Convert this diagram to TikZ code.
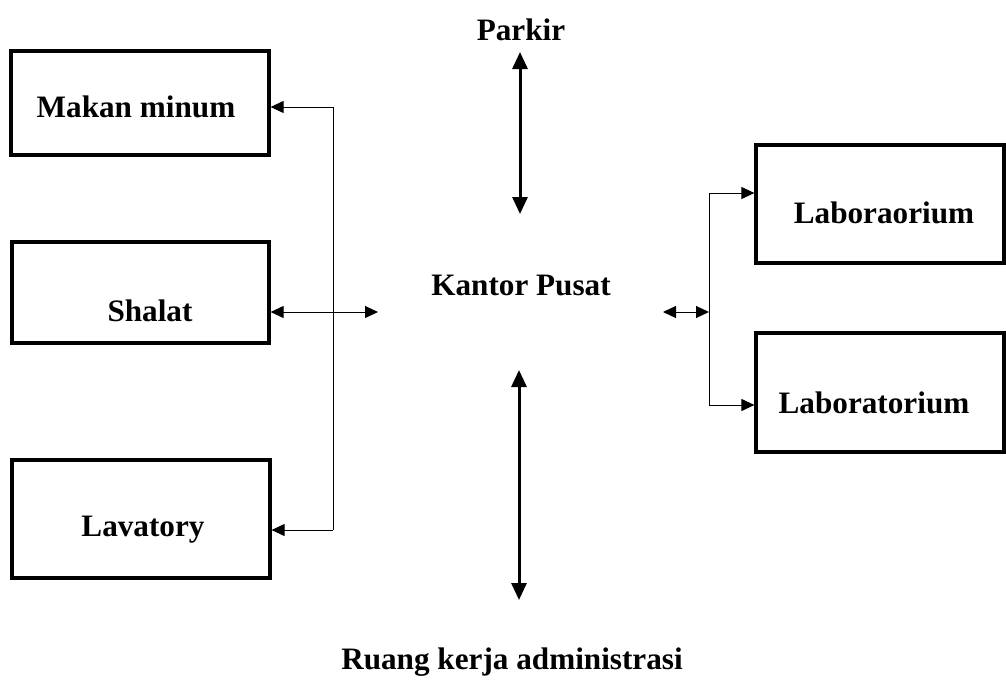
\documentclass[tikz,border=0pt]{standalone}
\usepackage{fontspec}
\setmainfont{Liberation Serif}
\usetikzlibrary{arrows.meta}
\begin{document}
\begin{tikzpicture}[x=1pt,y=-1pt,
  room/.style={draw,line width=3.2pt,inner sep=0pt},
  lbl/.style={font=\fontsize{31.2}{36}\selectfont\bfseries,inner sep=0pt},
  thin/.style={line width=1pt,-{Triangle[length=13pt,width=12pt]}},
  thinboth/.style={line width=1pt,{Triangle[length=13pt,width=12pt]}-{Triangle[length=13pt,width=12pt]}},
  thick/.style={line width=3pt,{Triangle[length=17pt,width=15pt]}-{Triangle[length=17pt,width=15pt]}}]
\useasboundingbox (0,0) rectangle (1006,680);

% left-hand rooms
\node[room,minimum width=258pt,minimum height=104pt] (makan) at (140,103) {};
\node[room,minimum width=257pt,minimum height=101pt] (shalat) at (140.5,292.5) {};
\node[room,minimum width=258pt,minimum height=118pt] (lav) at (141,519) {};
\node[lbl] (tmakan) at (136,107) {Makan minum};
\node[lbl] (tshalat) at (150,311) {Shalat};
\node[lbl] (tlav) at (143,530) {Lavatory};

% right-hand rooms
\node[room,minimum width=248pt,minimum height=118pt] (lab1) at (880,204) {};
\node[room,minimum width=248pt,minimum height=119pt] (lab2) at (880,392.5) {};
\node[lbl] (tlab1) at (884,213) {Laboraorium};
\node[lbl] (tlab2) at (874,403) {Laboratorium};

% centre labels
\node[lbl] (parkir) at (521,30) {Parkir};
\node[lbl] (kantor) at (521,285) {Kantor Pusat};
\node[lbl] (ruang) at (512,662) {Ruang kerja administrasi};

% junction points of the connectors
\coordinate (ltrunk) at (333,312);
\coordinate (lend) at (378,312);
\coordinate (rtrunk) at (709,312);
\coordinate (rend) at (663,312);
\coordinate (ptop) at (520,52);
\coordinate (pbot) at (520,214);
\coordinate (rtop) at (519,370);
\coordinate (rbot) at (519,600);

% left branch
\draw[thin] (ltrunk |- tmakan) -- (makan.east |- tmakan);
\draw[line width=1pt] (ltrunk |- tmakan) -- (ltrunk |- tlav);
\draw[thin] (ltrunk |- tlav) -- (lav.east |- tlav);
\draw[thinboth] (shalat.east |- ltrunk) -- (lend);

% right branch
\draw[thinboth] (rend) -- (rtrunk);
\draw[line width=1pt] (rtrunk |- 0,193) -- (rtrunk |- 0,405);
\draw[thin] (rtrunk |- 0,193) -- (lab1.west |- 0,193);
\draw[thin] (rtrunk |- 0,405) -- (lab2.west |- 0,405);

% vertical links
\draw[thick] (ptop) -- (pbot);
\draw[thick] (rtop) -- (rbot);
\end{tikzpicture}
\end{document}
